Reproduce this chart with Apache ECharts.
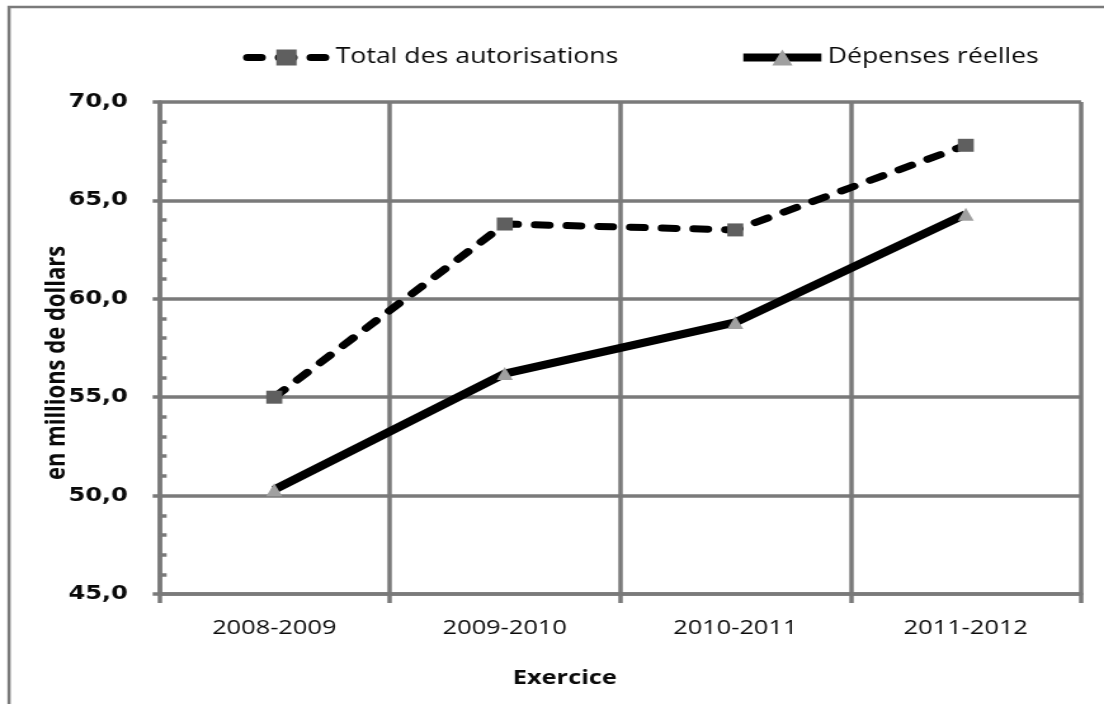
<!DOCTYPE html>
<html>
<head>
<meta charset="utf-8">
<script src="https://cdn.jsdelivr.net/npm/echarts@6/dist/echarts.min.js"></script>
<style>
  html, body { margin: 0; padding: 0; background: #fff; overflow: hidden; }
  /* the chart is laid out narrow and widened horizontally, giving the stretched look of the figure */
  #chart { width: 870px; height: 704px; transform: scaleX(1.269); transform-origin: 0 0; }
</style>
</head>
<body>
<div id="chart"></div>
<script>
// Exercices financiers
const exercices = ['2008-2009', '2009-2010', '2010-2011', '2011-2012'];
// Montants en millions de dollars
const totalAutorisations = [55.0, 63.8, 63.5, 67.8];
const depensesReelles = [50.3, 56.2, 58.8, 64.3];
// Échelle de l'axe vertical
const yMin = 45;
const yMax = 70;
const yStep = 5;

const gridGrey = '#7a7a7a';
const ink = '#0a0a0a';
const dashPattern = [11, 14];
const chart = echarts.init(document.getElementById('chart'), null, { renderer: 'canvas' });

const fmt = v => v.toFixed(1).replace('.', ',');

chart.setOption({
  backgroundColor: '#ffffff',
  animation: false,
  graphic: [{
    type: 'rect',
    shape: { x: 7.1, y: 7, width: 1100, height: 900 },
    style: { fill: 'none', stroke: gridGrey, lineWidth: 2.5 },
    silent: true
  }],
  legend: {
    top: 42,
    left: 186.5,
    itemGap: 94.5,
    itemWidth: 61.5,
    itemHeight: 20,
    textStyle: { fontFamily: 'Open Sans', fontSize: 21, color: ink },
    data: [{
      name: 'Total des autorisations',
      lineStyle: { width: 7, type: dashPattern, cap: 'round', color: '#000' },
      textStyle: { padding: [0, 0, 0, 3] }
    }, {
      name: 'Dépenses réelles',
      lineStyle: { width: 8, type: 'solid', color: '#000' },
      textStyle: { padding: [0, 0, 0, 0] }
    }]
  },
  grid: { left: 125.3, right: 18.1, top: 102, bottom: 110, containLabel: false },
  xAxis: {
    type: 'category',
    data: exercices,
    boundaryGap: true,
    axisLine: { lineStyle: { color: gridGrey, width: 3.5 } },
    axisTick: { show: true, length: 9, lineStyle: { color: gridGrey, width: 3.5 } },
    splitLine: { show: true, lineStyle: { color: gridGrey, width: 3.5 } },
    axisLabel: { margin: 24, fontFamily: 'Open Sans', fontSize: 20, color: ink },
    name: 'Exercice',
    nameLocation: 'middle',
    nameGap: 74,
    nameTextStyle: { fontFamily: 'Open Sans', fontWeight: 'bold', fontSize: 20, color: ink, padding: [0, 87, 0, 0] }
  },
  yAxis: [{
    type: 'value',
    min: yMin,
    max: yMax,
    interval: yStep,
    axisLine: { show: true, lineStyle: { color: gridGrey, width: 3.5 } },
    axisTick: { show: true, length: 5, lineStyle: { color: gridGrey, width: 3.5 } },
    splitLine: { show: true, lineStyle: { color: gridGrey, width: 3.5 } },
    axisLabel: { margin: 24.5, formatter: fmt, fontFamily: 'DejaVu Sans', fontWeight: 'bold', fontSize: 19, color: ink },
    name: 'en millions de dollars',
    nameLocation: 'middle',
    nameGap: 70,
    nameMoveOverlap: false,
    nameRotate: 90,
    nameTextStyle: { fontFamily: 'Open Sans', fontWeight: 'bold', fontSize: 22, color: ink, padding: [0, 30, 0, 0] }
  }, {
    // secondary scale carrying only the inner minor ticks
    type: 'value',
    position: 'left',
    min: yMin,
    max: yMax,
    interval: yStep,
    axisLine: { show: false },
    axisTick: { show: false, inside: true },
    axisLabel: { show: false },
    splitLine: { show: false },
    minorTick: { show: true, splitNumber: 5, length: 6, lineStyle: { color: gridGrey, width: 3.5 } }
  }],
  series: [{
    name: 'Total des autorisations',
    type: 'line',
    data: totalAutorisations,
    symbol: 'rect',
    symbolSize: [12.6, 13],
    itemStyle: { color: '#5f5f5f' },
    lineStyle: { color: '#000', width: 7, type: dashPattern, cap: 'round' },
    z: 3
  }, {
    name: 'Dépenses réelles',
    type: 'line',
    data: depensesReelles,
    symbol: 'triangle',
    symbolSize: [12.6, 13],
    itemStyle: { color: '#a0a0a0' },
    lineStyle: { color: '#000', width: 8 },
    z: 3
  }]
});
</script>
</body>
</html>
